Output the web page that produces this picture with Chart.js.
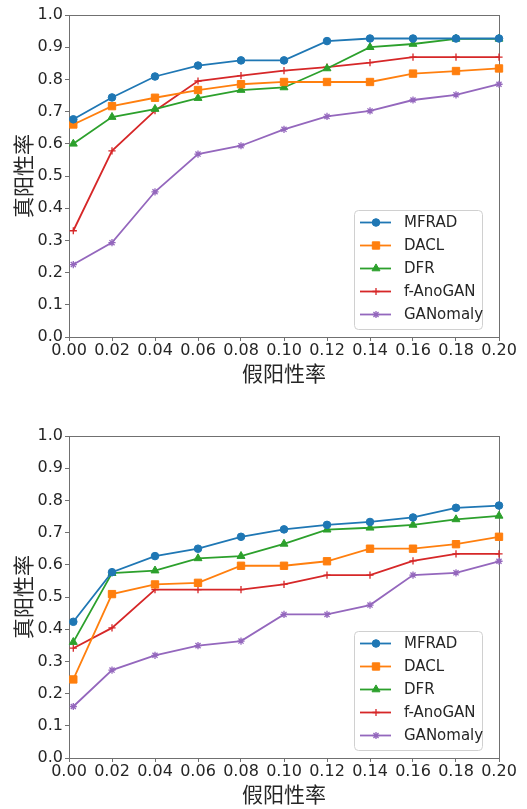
<!DOCTYPE html>
<html>
<head>
<meta charset="utf-8">
<script src="https://cdn.jsdelivr.net/npm/chart.js@4.4.1/dist/chart.umd.min.js"></script>
<style>
  html, body { margin: 0; padding: 0; background: #fff; overflow: hidden; }
  .box { position: absolute; left: 0; width: 527px; height: 400px; }
</style>
</head>
<body>
<div class="box" style="top:0"><canvas id="grafico1" width="527" height="400"></canvas></div>
<div class="box" style="top:421px"><canvas id="grafico2" width="527" height="400"></canvas></div>
<script>
// asse x comune: tasso di falsi positivi
var fpr = [0.002, 0.02, 0.04, 0.06, 0.08, 0.10, 0.12, 0.14, 0.16, 0.18, 0.20];
var metodi = ['MFRAD', 'DACL', 'DFR', 'f-AnoGAN', 'GANomaly'];

// grafico in alto
var mfrad1 = [0.676, 0.744, 0.809, 0.843, 0.859, 0.859, 0.919, 0.927, 0.927, 0.927, 0.927];
var dacl1  = [0.660, 0.717, 0.743, 0.767, 0.785, 0.792, 0.792, 0.792, 0.818, 0.826, 0.834];
var dfr1   = [0.600, 0.683, 0.708, 0.742, 0.767, 0.775, 0.834, 0.900, 0.910, 0.926, 0.926];
var fano1  = [0.330, 0.578, 0.703, 0.795, 0.812, 0.827, 0.838, 0.852, 0.869, 0.869, 0.869];
var gan1   = [0.225, 0.293, 0.451, 0.568, 0.594, 0.645, 0.685, 0.702, 0.736, 0.752, 0.785];

// grafico in basso
var mfrad2 = [0.423, 0.577, 0.627, 0.650, 0.687, 0.710, 0.724, 0.733, 0.747, 0.777, 0.784];
var dacl2  = [0.244, 0.509, 0.539, 0.544, 0.597, 0.597, 0.611, 0.650, 0.650, 0.664, 0.687];
var dfr2   = [0.360, 0.574, 0.582, 0.620, 0.627, 0.665, 0.709, 0.715, 0.724, 0.741, 0.752];
var fano2  = [0.341, 0.404, 0.523, 0.523, 0.523, 0.539, 0.568, 0.568, 0.612, 0.634, 0.634];
var gan2   = [0.160, 0.273, 0.319, 0.349, 0.363, 0.446, 0.446, 0.475, 0.568, 0.575, 0.611];

var titoloX = '假阳性率';
var titoloY = '真阳性率';

// stili delle serie (colori matplotlib)
var stili = [
  { colore: '#1f77b4', punto: 'circle',   raggio: 3.8 },
  { colore: '#ff7f0e', punto: 'rect',     raggio: 5.2 },
  { colore: '#2ca02c', punto: 'triangle', raggio: 4.6 },
  { colore: '#d62728', punto: 'cross',    raggio: 3.6 },
  { colore: '#9467bd', punto: 'star',     raggio: 3.6 }
];

var fontTick = { family: 'DejaVu Sans', size: 16 };
var fontTitolo = { family: 'Noto Sans CJK SC', size: 21 };
var coloreBordo = '#707070';

// legenda disegnata dentro l'area del grafico, in basso a destra
var legendaInterna = {
  id: 'legendaInterna',
  afterDatasetsDraw: function(chart) {
    var ctx = chart.ctx;
    var a = chart.chartArea;
    var w = 128, h = 119;
    var x0 = a.right - 17 - w;
    var y0 = a.bottom - 8 - h;
    ctx.save();
    ctx.beginPath();
    ctx.roundRect(x0 + 0.5, y0 + 0.5, w, h, 4);
    ctx.fillStyle = 'rgba(255,255,255,0.85)';
    ctx.fill();
    ctx.strokeStyle = '#d0d0d0';
    ctx.lineWidth = 1;
    ctx.stroke();
    chart.data.datasets.forEach(function(ds, i) {
      var y = y0 + 12.5 + i * 23;
      ctx.strokeStyle = ds.borderColor;
      ctx.lineWidth = ds.borderWidth;
      ctx.beginPath();
      ctx.moveTo(x0 + 6, y);
      ctx.lineTo(x0 + 37, y);
      ctx.stroke();
      ctx.fillStyle = ds.pointBackgroundColor;
      ctx.strokeStyle = ds.pointBorderColor;
      ctx.lineWidth = ds.pointBorderWidth;
      Chart.helpers.drawPoint(ctx, {
        pointStyle: ds.pointStyle, radius: ds.pointRadius, rotation: 0,
        borderWidth: ds.pointBorderWidth
      }, x0 + 22, y);
      ctx.fillStyle = '#262626';
      ctx.font = '15px "DejaVu Sans"';
      ctx.textBaseline = 'middle';
      ctx.textAlign = 'left';
      ctx.fillText(ds.label, x0 + 50, y + 1);
    });
    ctx.restore();
  }
};

// cornice attorno all'area del grafico (spine di matplotlib)
var cornice = {
  id: 'cornice',
  beforeDatasetsDraw: function(chart) {
    var ctx = chart.ctx, a = chart.chartArea;
    ctx.save();
    ctx.strokeStyle = coloreBordo;
    ctx.lineWidth = 1;
    ctx.strokeRect(a.left + 0.5, a.top + 0.5, a.right - a.left, a.bottom - a.top);
    ctx.restore();
  }
};

function disegna_grafico(id, serie) {
  var datasets = serie.map(function(valori, i) {
    var s = stili[i];
    return {
      label: metodi[i],
      data: valori.map(function(v, k) { return { x: fpr[k], y: v }; }),
      borderColor: s.colore,
      backgroundColor: s.colore,
      borderWidth: 1.8,
      pointStyle: s.punto,
      pointRadius: s.raggio,
      pointBackgroundColor: s.colore,
      pointBorderColor: s.colore,
      pointBorderWidth: s.punto === 'cross' || s.punto === 'star' ? 1.3 : 1,
      tension: 0,
      clip: false
    };
  });

  new Chart(document.getElementById(id), {
    type: 'line',
    data: { datasets: datasets },
    plugins: [cornice, legendaInterna],
    options: {
      responsive: false,
      animation: false,
      layout: { padding: { left: 0, top: 15, right: 28, bottom: 0 } },
      plugins: { legend: { display: false }, tooltip: { enabled: false } },
      scales: {
        x: {
          type: 'linear', min: 0, max: 0.2,
          afterFit: function(s) { s.height = 63; },
          grid: { drawOnChartArea: false, drawTicks: true, tickLength: 4, color: coloreBordo },
          border: { display: true, color: coloreBordo },
          ticks: {
            stepSize: 0.02, autoSkip: false, maxRotation: 0, padding: 0,
            color: '#262626', font: fontTick,
            callback: function(v) { return v.toFixed(2); }
          },
          title: { display: true, text: titoloX, color: '#262626', font: fontTitolo, padding: { top: 0, bottom: 14 } }
        },
        y: {
          type: 'linear', min: 0, max: 1,
          afterFit: function(s) { s.width = 69; },
          grid: { drawOnChartArea: false, drawTicks: true, tickLength: 4, color: coloreBordo },
          border: { display: true, color: coloreBordo },
          ticks: {
            stepSize: 0.1, padding: 2, color: '#262626', font: fontTick,
            callback: function(v) { return v.toFixed(1); }
          },
          title: { display: true, text: titoloY, color: '#262626', font: fontTitolo, padding: { top: 10, bottom: 0 } }
        }
      }
    }
  });
}

disegna_grafico('grafico1', [mfrad1, dacl1, dfr1, fano1, gan1]);
disegna_grafico('grafico2', [mfrad2, dacl2, dfr2, fano2, gan2]);
</script>
</body>
</html>
